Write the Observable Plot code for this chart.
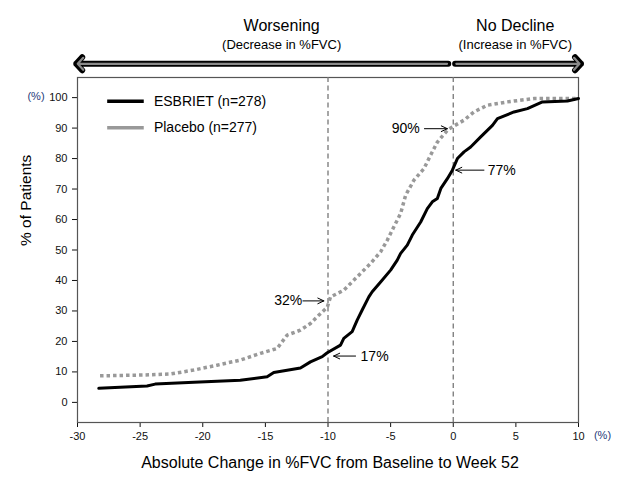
<!DOCTYPE html>
<html>
<head>
<meta charset="utf-8">
<script src="https://cdn.jsdelivr.net/npm/d3@7"></script>
<script src="https://cdn.jsdelivr.net/npm/@observablehq/plot@0.6"></script>
<style>
  html, body { margin: 0; padding: 0; background: #fff; }
</style>
</head>
<body>
<div id="chart"></div>
<script>
// ---- Data ----
const xTicks = [-30, -25, -20, -15, -10, -5, 0, 5, 10];
const yTicks = [0, 10, 20, 30, 40, 50, 60, 70, 80, 90, 100];

const seriesNames = ["ESBRIET (n=278)", "Placebo (n=277)"];

const esbrietX = [-28.3, -24.45, -23.8, -20.7, -17.0, -14.86, -14.33, -12.2, -11.4, -10.46, -10.06, -9.0, -8.74, -8.07, -7.67, -7.27, -6.74, -6.47, -5.8, -5.0, -4.47, -4.2, -3.67, -3.27, -2.6, -2.07, -1.67, -1.27, -0.99, -0.47, -0.07, 0.33, 0.86, 1.39, 2.19, 3.13, 3.53, 4.85, 5.92, 7.12, 9.12, 10.0];
const esbrietY = [4.6, 5.4, 6.0, 6.6, 7.3, 8.4, 9.8, 11.3, 13.3, 15.0, 16.3, 18.8, 21.0, 23.2, 27.0, 30.3, 34.6, 36.3, 39.5, 43.4, 46.7, 48.9, 51.6, 54.9, 59.2, 63.6, 65.8, 66.9, 70.2, 73.4, 76.2, 80.0, 82.2, 83.8, 87.1, 90.9, 93.1, 95.3, 96.4, 98.6, 98.9, 99.7];

const placeboX = [-28.2, -24.6, -22.6, -20.73, -18.86, -16.99, -15.39, -14.06, -13.26, -12.2, -11.4, -10.74, -10.06, -9.8, -8.74, -7.67, -6.6, -5.8, -5.27, -4.74, -4.2, -3.8, -3.14, -2.34, -1.81, -1.27, -0.47, -0.07, 0.86, 1.65, 2.73, 4.33, 6.45, 10.0];
const placeboY = [8.7, 9.0, 9.3, 10.6, 12.2, 13.9, 16.1, 17.7, 22.1, 23.7, 25.9, 28.6, 31.2, 34.6, 36.8, 41.2, 45.6, 49.4, 53.2, 57.6, 62.0, 68.0, 72.9, 76.7, 81.1, 85.4, 89.3, 90.4, 92.6, 95.3, 97.5, 98.6, 99.7, 99.7];

const referenceLines = [-10, 0];

// Callout annotations (label, label x, arrow start x, arrow tip x, y) in data units
const calloutLabels = ["90%", "77%", "32%", "17%"];
const calloutTextX  = [-3.8, 2.75, -12.05, -7.4];
const calloutAnchor = ["middle", "start", "end", "start"];
const calloutFromX  = [-2.3, 2.45, -12.0, -7.8];
const calloutToX    = [-0.47, 0.2, -10.33, -9.55];
const calloutY      = [89.8, 76.2, 33.3, 15.2];

// Top direction banners
const bannerTitles = ["Worsening", "No Decline"];
const bannerSubtitles = ["(Decrease in %FVC)", "(Increase in %FVC)"];
const bannerCenterX = [-13.7, 4.95];
const bannerFromX = [-0.4, 0.15];
const bannerToX = [-30.1, 10.2];

const xTitle = "Absolute Change in %FVC from Baseline to Week 52";
const yTitle = "% of Patients";
const unitLabel = "(%)";

// ---- Build tables ----
const esbriet = esbrietX.map((x, i) => ({x, y: esbrietY[i]}));
const placebo = placeboX.map((x, i) => ({x, y: placeboY[i]}));
const callouts = calloutLabels.map((label, i) => ({
  label, tx: calloutTextX[i], anchor: calloutAnchor[i],
  x1: calloutFromX[i], x2: calloutToX[i], y: calloutY[i]
}));
const banners = bannerTitles.map((t, i) => ({
  title: t, sub: bannerSubtitles[i], cx: bannerCenterX[i],
  x1: bannerFromX[i], x2: bannerToX[i]
}));
// legend entries placed in data space near the top-left of the frame
const legend = seriesNames.map((name, i) => ({name, i}));

const BANNER_TITLE_Y = 123.6, BANNER_SUB_Y = 117.3, BANNER_ARROW_Y = 111.1;
const LEGEND_Y = [98.8, 90.1], LEGEND_X1 = -27.63, LEGEND_X2 = -24.71, LEGEND_TX = -23.9;

const font = "'Liberation Sans', Arial, Helvetica, sans-serif";

const chart = Plot.plot({
  width: 625,
  height: 500,
  marginLeft: 77,
  marginRight: 47,
  marginTop: 77,
  marginBottom: 78,
  style: {fontFamily: font, fontSize: "11px", color: "#111", background: "#fff", overflow: "visible"},
  x: {domain: [-30, 10], ticks: xTicks, tickFormat: d => String(d), tickSize: 5, tickPadding: 5, label: null},
  y: {domain: [-6.6, 106.6], ticks: yTicks, tickFormat: d => String(d), tickSize: 5, tickPadding: 5, label: null},
  marks: [
    Plot.frame({stroke: "#555", strokeWidth: 1.2}),
    Plot.ruleX(referenceLines, {stroke: "#777", strokeWidth: 1.3, strokeDasharray: "5,3.5"}),
    // curves
    Plot.line(placebo, {x: "x", y: "y", stroke: "#999", strokeWidth: 3.5, strokeDasharray: "3.5,3", strokeLinecap: "butt"}),
    Plot.line(esbriet, {x: "x", y: "y", stroke: "#000", strokeWidth: 3, strokeLinejoin: "round"}),
    // legend
    Plot.link(legend, {x1: LEGEND_X1, x2: LEGEND_X2, y1: d => LEGEND_Y[d.i], y2: d => LEGEND_Y[d.i],
      stroke: d => d.i === 0 ? "#000" : "#999", strokeWidth: d => d.i === 0 ? 3.5 : 3.5,
      strokeDasharray: d => d.i === 0 ? null : "3.5,3"}),
    Plot.text(legend, {x: LEGEND_TX, y: d => LEGEND_Y[d.i], text: "name", textAnchor: "start",
      fontSize: 14, fill: "#000"}),
    // callouts
    Plot.arrow(callouts, {x1: "x1", x2: "x2", y1: "y", y2: "y", stroke: "#000", strokeWidth: 1,
      headLength: 10, headAngle: 50}),
    Plot.text(callouts.filter(d => d.anchor === "middle"), {x: "tx", y: "y", text: "label", fontSize: 14, fill: "#000", textAnchor: "middle"}),
    Plot.text(callouts.filter(d => d.anchor === "start"), {x: "tx", y: "y", text: "label", fontSize: 14, fill: "#000", textAnchor: "start"}),
    Plot.text(callouts.filter(d => d.anchor === "end"), {x: "tx", y: "y", text: "label", fontSize: 14, fill: "#000", textAnchor: "end"}),
    // banner arrows
    Plot.arrow(banners, {x1: "x1", x2: "x2", y1: BANNER_ARROW_Y, y2: BANNER_ARROW_Y,
      stroke: "#000", strokeWidth: 6, headLength: 2.2, headAngle: 95}),
    Plot.arrow(banners, {x1: "x1", x2: "x2", y1: BANNER_ARROW_Y, y2: BANNER_ARROW_Y,
      stroke: "#8a8a8a", strokeWidth: 2.2, headLength: 5.5, headAngle: 95, insetEnd: 1.5, insetStart: 1.2}),
    Plot.text(banners, {x: "cx", y: BANNER_TITLE_Y, text: "title", fontSize: 16, fill: "#000"}),
    Plot.text(banners, {x: "cx", y: BANNER_SUB_Y, text: "sub", fontSize: 13, fill: "#000"}),
    // unit labels
    Plot.text([unitLabel], {x: -30, y: 100, dx: -41.5, dy: -1, text: d => d, fontSize: 11, fill: "#1f3a7a"}),
    Plot.text([unitLabel], {x: 10, frameAnchor: "bottom", dx: 24, dy: 16, text: d => d, fontSize: 11, fill: "#1f3a7a"}),
    // axis titles
    Plot.text([xTitle], {frameAnchor: "bottom", dy: 45, dx: 2, text: d => d, fontSize: 16, fill: "#000"}),
    Plot.text([yTitle], {frameAnchor: "left", dx: -51, dy: -4, rotate: -90, text: d => d, fontSize: 15.5, fill: "#000"})
  ]
});

document.getElementById("chart").appendChild(chart);
</script>
</body>
</html>
